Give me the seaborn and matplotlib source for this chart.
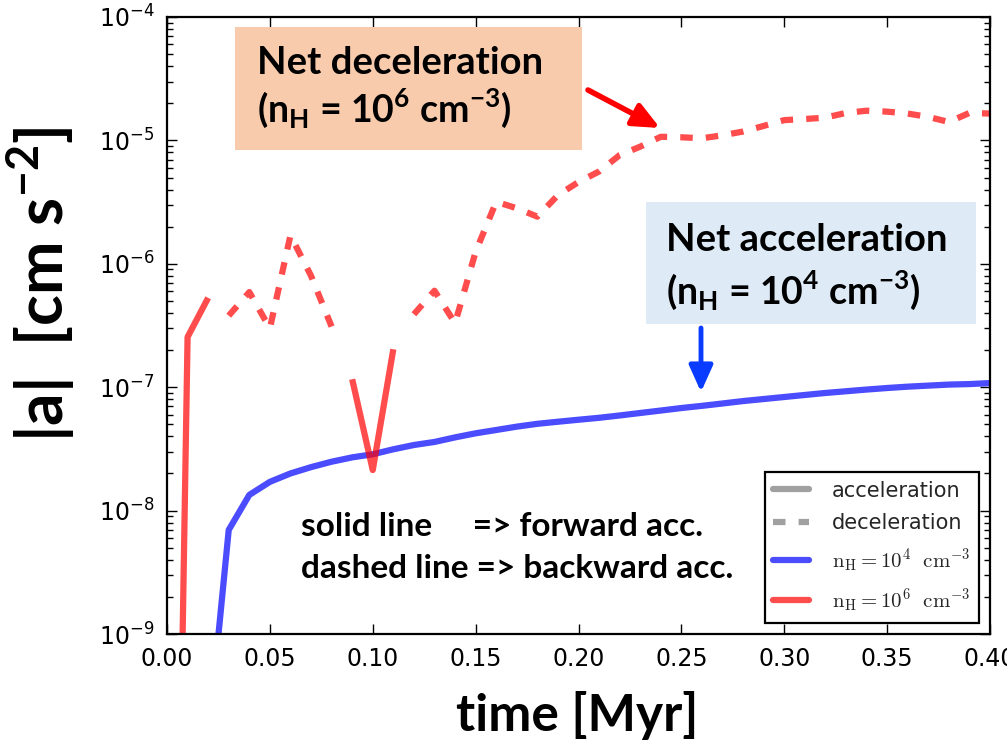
import matplotlib
matplotlib.use('Agg')
import pandas as pd
import matplotlib.pyplot as plt
import seaborn as sns
from matplotlib.lines import Line2D
from matplotlib.patches import Rectangle
from matplotlib.font_manager import FontProperties

# time [Myr] and signed acceleration [cm s^-2] (positive = forward, negative = backward)
time_n4 = [0.02, 0.03, 0.04, 0.05, 0.06, 0.07, 0.08, 0.09, 0.10, 0.11, 0.12, 0.13,
           0.14, 0.15, 0.16, 0.17, 0.18, 0.19, 0.20, 0.21, 0.22, 0.23, 0.24, 0.25,
           0.26, 0.27, 0.28, 0.29, 0.30, 0.31, 0.32, 0.33, 0.34, 0.35, 0.36, 0.37,
           0.38, 0.39, 0.40]
acc_n4 = [1.4e-10, 6.97e-9, 1.34e-8, 1.71e-8, 2.0e-8, 2.25e-8, 2.49e-8, 2.7e-8, 2.86e-8,
          3.14e-8, 3.4e-8, 3.6e-8, 3.92e-8, 4.23e-8, 4.5e-8, 4.79e-8, 5.05e-8, 5.25e-8,
          5.45e-8, 5.65e-8, 5.9e-8, 6.18e-8, 6.47e-8, 6.78e-8, 7.06e-8, 7.38e-8, 7.72e-8,
          8.02e-8, 8.33e-8, 8.65e-8, 8.98e-8, 9.27e-8, 9.57e-8, 9.85e-8, 1.01e-7, 1.03e-7,
          1.05e-7, 1.06e-7, 1.08e-7]

time_n6 = [0.005, 0.01, 0.02, 0.03, 0.04, 0.05, 0.06, 0.07, 0.08, 0.09, 0.10, 0.11,
           0.12, 0.13, 0.14, 0.15, 0.16, 0.17, 0.18, 0.19, 0.20, 0.21, 0.22, 0.23,
           0.24, 0.25, 0.26, 0.27, 0.28, 0.29, 0.30, 0.31, 0.32, 0.33, 0.34, 0.35,
           0.36, 0.37, 0.38, 0.39, 0.40]
acc_n6 = [2.5e-12, 2.55e-7, 5.3e-7, -3.8e-7, -5.9e-7, -3.0e-7, -1.7e-6, -8.0e-7, -3.1e-7,
          1.16e-7, 2.13e-8, 2.03e-7, -3.9e-7, -6.05e-7, -3.3e-7, -1.25e-6, -3.18e-6,
          -2.82e-6, -2.41e-6, -3.6e-6, -4.6e-6, -5.6e-6, -7.6e-6, -8.9e-6, -1.07e-5,
          -1.06e-5, -1.04e-5, -1.1e-5, -1.18e-5, -1.31e-5, -1.46e-5, -1.49e-5, -1.53e-5,
          -1.67e-5, -1.74e-5, -1.71e-5, -1.65e-5, -1.55e-5, -1.41e-5, -1.67e-5, -1.65e-5]

W, H = 1007, 743
LW = 4.5
DASH = (0, (2.0, 2.1))


def px(x, y):
    """Converte pixel da imagem para fração da figura."""
    return x / W, 1 - y / H


def draw_signed(ax, times, accs, color):
    """Solid where acceleration > 0, dashed where < 0."""
    df = pd.DataFrame({'time': times, 'acc': accs})
    df['forward'] = df['acc'] > 0
    df['abs_acc'] = df['acc'].abs()
    df['seg'] = (df['forward'] != df['forward'].shift()).cumsum()
    for _, seg in df.groupby('seg'):
        ls = '-' if seg['forward'].iloc[0] else DASH
        sns.lineplot(data=seg, x='time', y='abs_acc', color=color, alpha=0.7,
                     linewidth=LW, linestyle=ls, estimator=None, ax=ax,
                     solid_capstyle='butt', dash_capstyle='butt')


sns.set_style('ticks')
plt.rcParams['font.family'] = ['DejaVu Sans']

fig, ax = plt.subplots(figsize=(W / 100, H / 100), dpi=100)
fig.subplots_adjust(left=167 / W, right=990 / W, bottom=1 - 634 / H, top=1 - 17 / H)

ax.set_yscale('log')
draw_signed(ax, time_n4, acc_n4, 'blue')
draw_signed(ax, time_n6, acc_n6, 'red')

ax.set_xlim(0, 0.4)
ax.set_ylim(1e-9, 1e-4)
ax.set_xticks([0.0, 0.05, 0.10, 0.15, 0.20, 0.25, 0.30, 0.35, 0.40])
ax.set_xticklabels(['0.00', '0.05', '0.10', '0.15', '0.20', '0.25', '0.30', '0.35', '0.40'])
ax.set_xlabel('')
ax.set_ylabel('')
ax.tick_params(which='both', direction='in', top=True, right=True, colors='black',
               labelsize=17, pad=9)
ax.tick_params(which='major', length=7, width=1)
ax.tick_params(which='minor', length=4, width=1)
for s in ax.spines.values():
    s.set_color('black')
    s.set_linewidth(1.6)

# legenda
handles = [
    Line2D([], [], color='#a0a0a0', lw=LW),
    Line2D([], [], color='#a0a0a0', lw=LW, linestyle=DASH),
    Line2D([], [], color='blue', alpha=0.7, lw=LW),
    Line2D([], [], color='red', alpha=0.7, lw=LW),
]
labels = ['acceleration', 'deceleration',
          r'$\mathrm{n_H =10^4\ \ cm^{-3}}$', r'$\mathrm{n_H =10^6\ \ cm^{-3}}$']
leg = ax.legend(handles, labels, loc='lower right', fancybox=False, framealpha=1,
                edgecolor='black', prop=FontProperties(size=15, math_fontfamily='cm'),
                handlelength=1.7, handletextpad=1.1, labelspacing=0.6,
                borderaxespad=0.55)
leg.get_frame().set_linewidth(1.6)

# rótulos dos eixos
bold = dict(family='Lato', fontweight='bold', color='black')
fig.text(*px(577, 716), 'time [Myr]', fontsize=37, ha='center', va='center', **bold)
fig.text(*px(41, 284), r'|a|  [cm s$^\mathregular{-2}$]', fontsize=46, rotation=90,
         ha='center', va='center', **bold)

# caixas de anotação
fig.add_artist(Rectangle(px(235, 150), 347 / W, 123 / H, transform=fig.transFigure,
                         facecolor='#f8cbad', edgecolor='none', zorder=2))
fig.add_artist(Rectangle(px(646, 324), 330 / W, 122 / H, transform=fig.transFigure,
                         facecolor='#deebf7', edgecolor='none', zorder=2))
fig.text(*px(257, 63), 'Net deceleration', fontsize=27.5, ha='left', va='center', zorder=3, **bold)
fig.text(*px(257, 108), r'(n$_\mathregular{H}$ = 10$^\mathregular{6}$ cm$^\mathregular{-3}$)',
         fontsize=27, ha='left', va='center', zorder=3, **bold)
fig.text(*px(666, 240), 'Net acceleration', fontsize=27.5, ha='left', va='center', zorder=3, **bold)
fig.text(*px(666, 290), r'(n$_\mathregular{H}$ = 10$^\mathregular{4}$ cm$^\mathregular{-3}$)',
         fontsize=27, ha='left', va='center', zorder=3, **bold)

fig.text(*px(301, 527), 'solid line     => forward acc.', fontsize=24, ha='left',
         va='center', zorder=3, **bold)
fig.text(*px(301, 568), 'dashed line => backward acc.', fontsize=24, ha='left',
         va='center', zorder=3, **bold)

# setas
ax.annotate('', xy=px(660, 128), xytext=px(588, 90), xycoords='figure fraction',
            arrowprops=dict(arrowstyle='-|>,head_length=1.0,head_width=0.45', color='red',
                            lw=4, mutation_scale=16, shrinkA=0, shrinkB=0))
ax.annotate('', xy=px(701, 392), xytext=px(701, 328), xycoords='figure fraction',
            arrowprops=dict(arrowstyle='-|>,head_length=1.0,head_width=0.45', color='#0a3cff',
                            lw=3.5, mutation_scale=16, shrinkA=0, shrinkB=0))

fig.savefig('out.png', dpi=100)
